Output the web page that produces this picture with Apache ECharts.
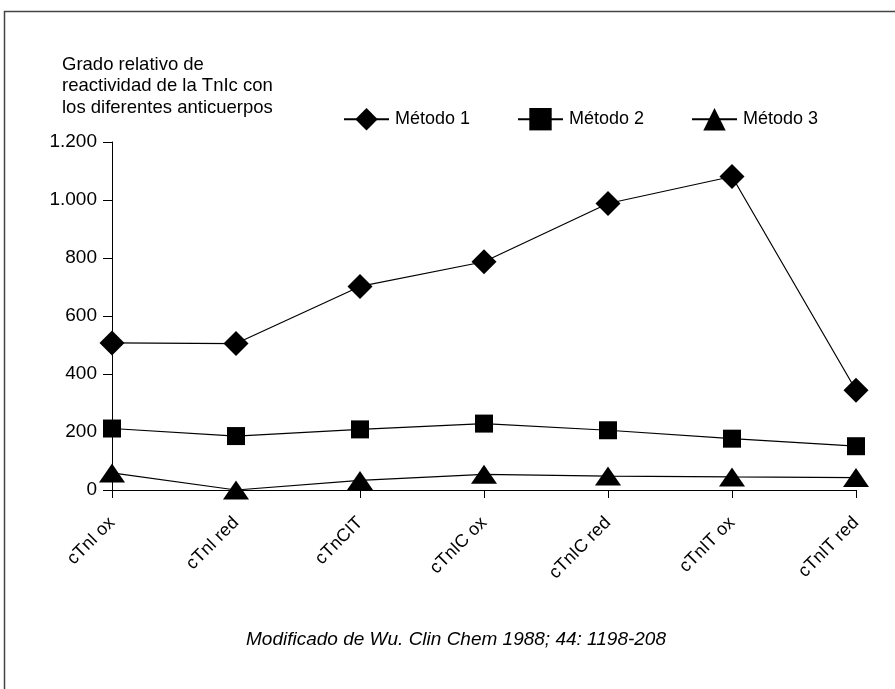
<!DOCTYPE html>
<html>
<head>
    <meta charset="UTF-8">
    <title>Reactividad TnIc</title>
    <script src="https://cdn.jsdelivr.net/npm/echarts@6/dist/echarts.min.js"></script>
    <style>
        html, body { margin: 0; padding: 0; background: #fff; }
        #chart { width: 895px; height: 689px; }
    </style>
</head>
<body>
<div id="chart"></div>
<script type="text/javascript">
    // datos
    var categorias = ['cTnI ox', 'cTnI red', 'cTnCIT', 'cTnIC ox', 'cTnIC red', 'cTnIT ox', 'cTnIT red'];
    var metodo1 = [507, 505, 702, 787, 988, 1081, 344];
    var metodo2 = [212, 186, 209, 229, 206, 177, 151];
    var metodo3 = [59, 0, 33, 54, 48, 45, 43];
    var nombres = ['Método 1', 'Método 2', 'Método 3'];

    var fuente = '"Liberation Sans", Arial, sans-serif';

    var myChart = echarts.init(document.getElementById('chart'));

    function leyenda(nombre, x) {
        return {
            data: [nombre],
            left: x,
            top: 103,
            itemWidth: 45,
            itemHeight: 28,
            itemGap: 0,
            textStyle: { fontFamily: fuente, fontSize: 18, color: '#000', padding: [0, 0, 0, 1] },
            selectedMode: false
        };
    }

    var option = {
        backgroundColor: '#fff',
        animation: false,
        textStyle: { fontFamily: fuente },
        graphic: [
            {
                type: 'rect',
                shape: { x: 4.5, y: 11.5, width: 1200, height: 1000 },
                style: { fill: 'none', stroke: '#444', lineWidth: 1.5 },
                silent: true
            },
            {
                type: 'text',
                left: 62,
                top: 54,
                style: {
                    text: 'Grado relativo de\nreactividad de la TnIc con\nlos diferentes anticuerpos',
                    font: '18.5px ' + fuente,
                    lineHeight: 21.5,
                    fill: '#000'
                }
            },
            {
                type: 'text',
                left: 246,
                top: 630,
                style: {
                    text: 'Modificado de Wu. Clin Chem 1988; 44: 1198-208',
                    font: 'italic 19px ' + fuente,
                    fill: '#000'
                }
            }
        ],
        legend: [
            leyenda(nombres[0], 338),
            leyenda(nombres[1], 512),
            leyenda(nombres[2], 686)
        ],
        grid: {
            left: 112,
            right: 39,
            top: 142,
            bottom: 199,
            containLabel: false
        },
        xAxis: {
            type: 'category',
            boundaryGap: false,
            data: categorias,
            axisLine: { lineStyle: { color: '#000', width: 1 } },
            axisTick: { show: true, inside: false, length: 8, alignWithLabel: true, lineStyle: { color: '#000' } },
            axisLabel: {
                rotate: 45,
                interval: 0,
                margin: 30,
                fontSize: 18,
                fontFamily: fuente,
                color: '#000'
            },
            splitLine: { show: false }
        },
        yAxis: {
            type: 'value',
            min: 0,
            max: 1200,
            interval: 200,
            axisLine: { show: true, lineStyle: { color: '#000', width: 1 } },
            axisTick: { show: true, length: 9, lineStyle: { color: '#000' } },
            axisLabel: {
                margin: 15,
                fontSize: 19,
                fontFamily: fuente,
                color: '#000',
                formatter: function (v) {
                    return String(v).replace(/(\d)(\d{3})$/, '$1.$2');
                }
            },
            splitLine: { show: false }
        },
        series: [
            {
                name: nombres[0],
                type: 'line',
                data: metodo1,
                symbol: 'diamond',
                symbolSize: 25,
                color: '#000',
                lineStyle: { color: '#000', width: 1.2 },
                itemStyle: { color: '#000' }
            },
            {
                name: nombres[1],
                type: 'line',
                data: metodo2,
                symbol: 'rect',
                symbolSize: 18,
                color: '#000',
                lineStyle: { color: '#000', width: 1.2 },
                itemStyle: { color: '#000' }
            },
            {
                name: nombres[2],
                type: 'line',
                data: metodo3,
                symbol: 'triangle',
                symbolSize: [26, 19],
                color: '#000',
                lineStyle: { color: '#000', width: 1.2 },
                itemStyle: { color: '#000' }
            }
        ]
    };

    myChart.setOption(option);
</script>
</body>
</html>
